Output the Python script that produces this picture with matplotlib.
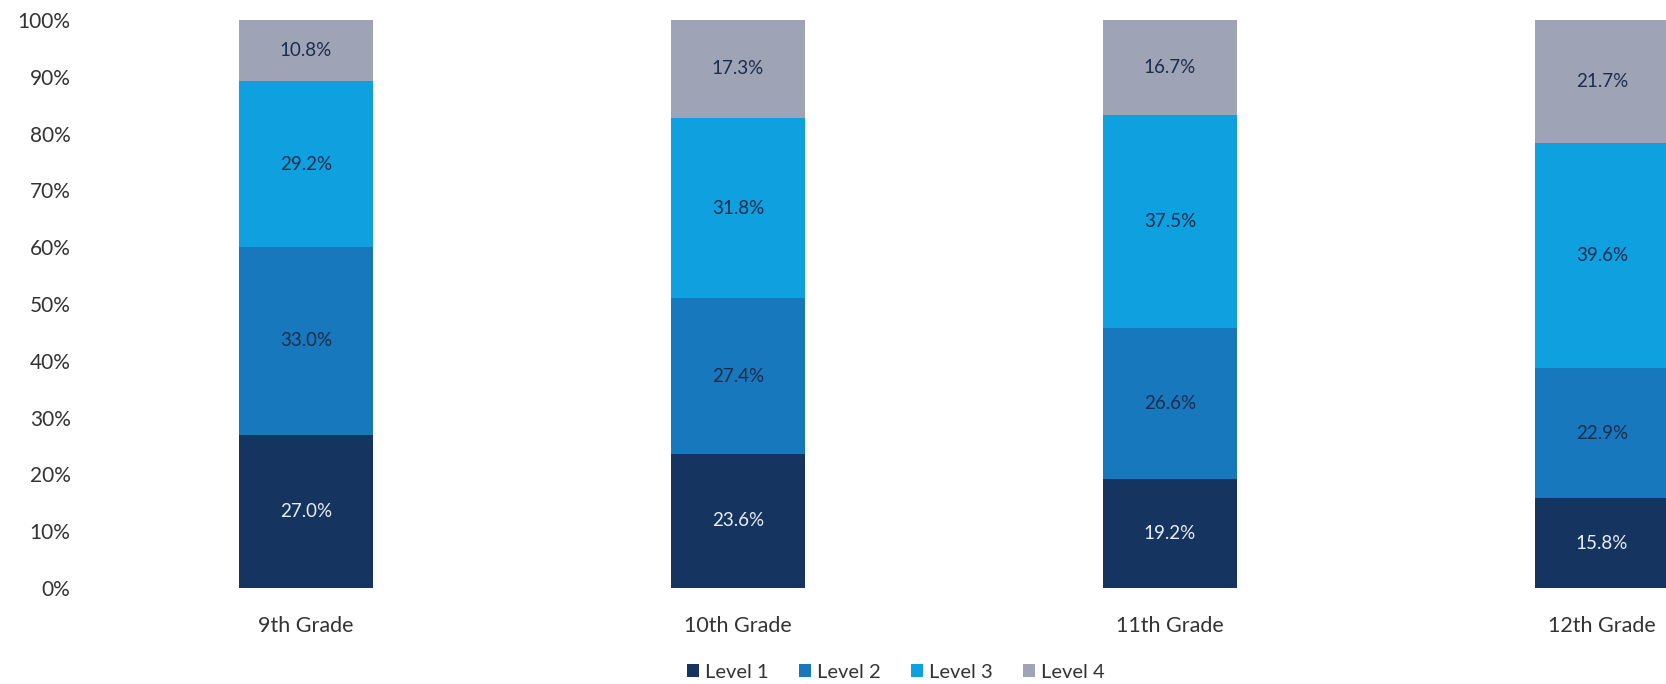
import matplotlib
matplotlib.use("Agg")
import matplotlib.pyplot as plt
import numpy as np

grades = ["9th Grade", "10th Grade", "11th Grade", "12th Grade"]
levels = ["Level 1", "Level 2", "Level 3", "Level 4"]
level1 = [27.0, 23.6, 19.2, 15.8]
level2 = [33.0, 27.4, 26.6, 22.9]
level3 = [29.2, 31.8, 37.5, 39.6]
level4 = [10.8, 17.3, 16.7, 21.7]
yticks = [0, 10, 20, 30, 40, 50, 60, 70, 80, 90, 100]

colors = ["#15345f", "#1778bd", "#0fa0e0", "#9fa3b6"]
text_colors = ["#e8eef6", "#1c2c4c", "#1c2c4c", "#1c2c4c"]

plt.rcParams['font.family'] = ['Lato', 'DejaVu Sans']

W, H = 1666, 684
fig = plt.figure(figsize=(W / 100, H / 100), dpi=100)
left, right_px = 90, 90 + 1728
bottom_px, top_px = 588, 20
ax = fig.add_axes([left / W, 1 - bottom_px / H, (right_px - left) / W, (bottom_px - top_px) / H])

x = np.arange(len(grades))
series = [level1, level2, level3, level4]
base = np.zeros(len(grades))
handles = []
for s, col, tc, name in zip(series, colors, text_colors, levels):
    vals = np.array(s)
    b = ax.bar(x, vals, bottom=base, width=0.31, color=col, label=name, linewidth=0)
    handles.append(b)
    for xi, v, bo in zip(x, vals, base):
        ax.text(xi, bo + v / 2, f"{v:.1f}%", ha="center", va="center", color=tc, fontsize=13.5)
    base = base + vals

ax.set_xlim(-0.5, 3.5)
ax.set_ylim(0, 100)
ax.set_yticks(yticks)
ax.set_yticklabels([f"{t}%" for t in yticks], fontsize=15, color="#333333")
ax.set_xticks(x)
ax.set_xticklabels(grades, fontsize=15.5, color="#333333")
ax.tick_params(axis="both", length=0)
ax.tick_params(axis="x", pad=20)
ax.tick_params(axis="y", pad=14)
for sp in ax.spines.values():
    sp.set_visible(False)

fig.legend(handles=handles, labels=levels, loc="center", bbox_to_anchor=(896 / W, 1 - 672 / H),
           ncol=4, frameon=False, fontsize=14.5, handlelength=0.6, handleheight=0.6,
           handletextpad=0.3, columnspacing=1.5, labelcolor="#333333")

fig.savefig("out.png", dpi=100, facecolor="white")
